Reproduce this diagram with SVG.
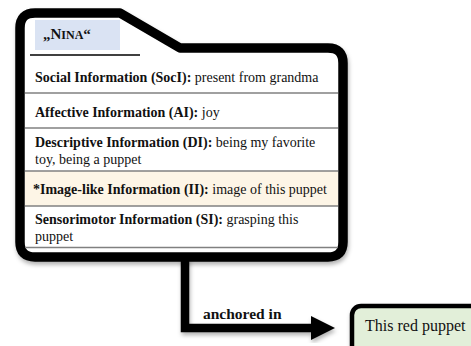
<svg xmlns="http://www.w3.org/2000/svg" width="471" height="346" viewBox="0 0 471 346">
<defs>
<style>
.t{font-family:'Liberation Serif','Times New Roman',serif;font-size:14px;fill:#111}
.b{font-weight:bold}
.sep{stroke:#808080;stroke-width:1.3}
.frame{fill:#fff;stroke:#000;stroke-width:9.5;stroke-linejoin:round}
.conn{fill:none;stroke:#000;stroke-width:8.5}
</style>
<filter id="sh" x="-10%" y="-10%" width="130%" height="130%">
<feDropShadow dx="1" dy="3" stdDeviation="2" flood-color="#000" flood-opacity="0.3"/>
</filter>
<marker id="arr" markerUnits="userSpaceOnUse" markerWidth="26" markerHeight="28" refX="2" refY="14" orient="auto">
<path d="M0,2 L24,14 L0,26 Z" fill="#000"/>
</marker>
</defs>
<g id="connectors">
<path class="conn" filter="url(#sh)" d="M185,257 V328 H313" marker-end="url(#arr)"/>
<text class="t b" font-family="Liberation Serif, serif" x="203" y="319" style="font-size:15.5px">anchored in</text>
</g>
<g id="nina" font-family="Liberation Serif, serif">
<path class="frame" filter="url(#sh)" d="M35,13 H120 L180,48 H328 Q343,48 343,63 V242 Q343,257 328,257 H35 Q20,257 20,242 V28 Q20,13 35,13 Z"/>
<rect x="35" y="20" width="85" height="30" fill="#dae3f3"/>
<text class="t b" x="43" y="39" style="font-size:15px">„N<tspan style="font-size:12px">INA</tspan>“</text>
<line x1="30" y1="55" x2="140" y2="55" stroke="#000" stroke-width="1.5"/>
<rect x="25" y="171" width="313" height="35" fill="#fdf5e6"/>
<line class="sep" x1="25" y1="93" x2="338" y2="93"/>
<line class="sep" x1="25" y1="128" x2="338" y2="128"/>
<line class="sep" x1="25" y1="171" x2="338" y2="171"/>
<line class="sep" x1="25" y1="206" x2="338" y2="206"/>
<line class="sep" x1="25" y1="247.5" x2="338" y2="247.5"/>
<text class="t" x="35" y="82"><tspan class="b">Social Information (SocI):</tspan> present from grandma</text>
<text class="t" x="35" y="117"><tspan class="b">Affective Information (AI):</tspan> joy</text>
<text class="t" x="35" y="147"><tspan class="b">Descriptive Information (DI):</tspan> being my favorite</text>
<text class="t" x="35" y="164">toy, being a puppet</text>
<text class="t" x="33" y="194"><tspan class="b">*Image-like Information (II):</tspan> image of this puppet</text>
<text class="t" x="35" y="224"><tspan class="b">Sensorimotor Information (SI):</tspan> grasping this</text>
<text class="t" x="35" y="241">puppet</text>
</g>
<g id="puppet" font-family="Liberation Serif, serif">
<rect x="352" y="306" width="140" height="60" rx="9" fill="#e2efd9" stroke="#000" stroke-width="4.5" filter="url(#sh)"/>
<text class="t" x="365" y="331" style="font-size:16px">This red puppet</text>
</g>
</svg>
